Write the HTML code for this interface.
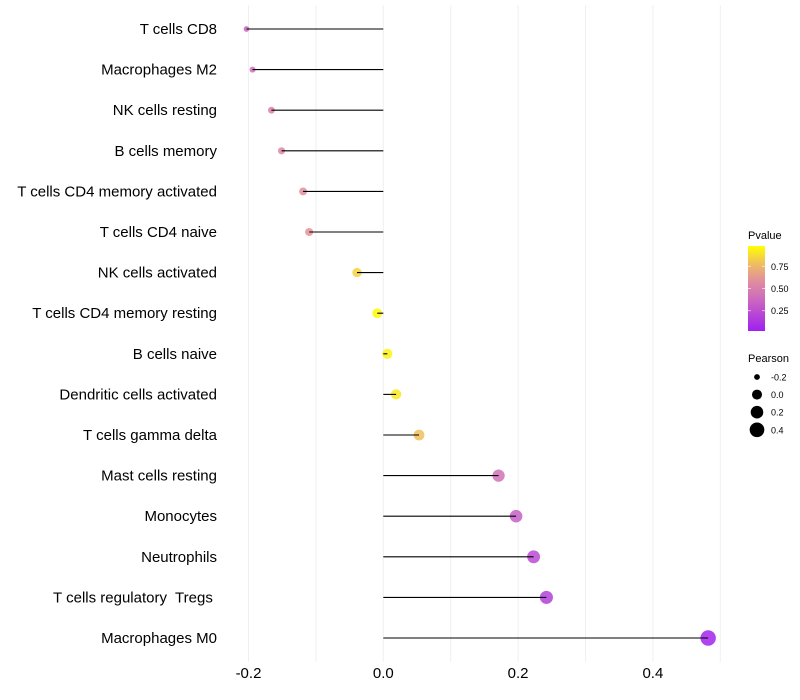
<!DOCTYPE html>
<html><head><meta charset="utf-8"><style>
body{margin:0;background:#fff;}
svg{display:block;font-family:"Liberation Sans",Arial,sans-serif;}
text{white-space:pre;}
</style></head><body>
<svg id="chart" width="800" height="700"></svg>
<script>
const categories=["T cells CD8","Macrophages M2","NK cells resting","B cells memory","T cells CD4 memory activated","T cells CD4 naive","NK cells activated","T cells CD4 memory resting","B cells naive","Dendritic cells activated","T cells gamma delta","Mast cells resting","Monocytes","Neutrophils","T cells regulatory  Tregs ","Macrophages M0"];
const pearson=[-0.203,-0.194,-0.166,-0.151,-0.119,-0.110,-0.039,-0.009,0.006,0.019,0.053,0.171,0.197,0.223,0.242,0.482];
const pvalue=[0.35,0.40,0.50,0.55,0.60,0.63,0.86,0.98,0.96,0.93,0.80,0.42,0.32,0.22,0.16,0.02];
const xTicks=[-0.2,0,0.2,0.4];
const xTickLabels=["-0.2","0.0","0.2","0.4"];
const xGrid=[-0.2,-0.1,0,0.1,0.2,0.3,0.4,0.5];
const colorTicks=[0.25,0.5,0.75];
const colorTickLabels=["0.25","0.50","0.75"];
const sizeLegend=[-0.2,0,0.2,0.4];
const sizeLegendLabels=["-0.2","0.0","0.2","0.4"];

const NS="http://www.w3.org/2000/svg";
const svg=document.getElementById('chart');
function mk(tag,attrs,parent){const e=document.createElementNS(NS,tag);for(const k in attrs)e.setAttribute(k,attrs[k]);(parent||svg).appendChild(e);return e;}
const x=v=>383.3+v*674;
const y=i=>29+i*40.6;
const rad=v=>Math.sqrt(Math.max(0,(v+0.25)/0.75))*6.6+1.2;
function lerp(a,b,t){return Math.round(a+(b-a)*t);}
function col(p){const s=[[160,32,240],[214,120,180],[232,160,140],[255,255,0]];let t=Math.max(0,Math.min(1,p));let a,b,u;if(t<0.45){a=s[0];b=s[1];u=t/0.45;}else if(t<0.7){a=s[1];b=s[2];u=(t-0.45)/0.25;}else{a=s[2];b=s[3];u=(t-0.7)/0.3;}return `rgb(${lerp(a[0],b[0],u)},${lerp(a[1],b[1],u)},${lerp(a[2],b[2],u)})`;}

xGrid.forEach(g=>{const l=mk('line',{x1:x(g),x2:x(g),y1:5,y2:662,stroke:'#f0f0f0','stroke-width':1});

});

xTicks.forEach((t,i)=>{const e=mk('text',{x:x(t),y:678,'text-anchor':'middle','font-size':15,fill:'#000'});e.textContent=xTickLabels[i];

});

categories.forEach((c,i)=>{
 const t=mk('text',{x:217,y:y(i)+5,'text-anchor':'end','font-size':15,fill:'#000'});t.textContent=c;
 
 
 const p=mk('circle',{cx:x(pearson[i]),cy:y(i),r:rad(pearson[i]),fill:col(pvalue[i]),'fill-opacity':0.85});
 
 
 const l=mk('line',{x1:x(0),x2:x(pearson[i]),y1:y(i),y2:y(i),stroke:'#000','stroke-width':1.1});
 
 
});

const g=mk('g',{});
const tt=mk('text',{x:748,y:239,'font-size':11,fill:'#000'},g);tt.textContent='Pvalue';
const defs=mk('defs',{});const lg=mk('linearGradient',{id:'pg',x1:0,y1:1,x2:0,y2:0},defs);
[0,0.2,0.4,0.6,0.8,1].forEach(s=>mk('stop',{offset:s,'stop-color':col(s)},lg));
const cb=mk('rect',{x:748,y:246,width:17,height:85,fill:'url(#pg)'},g);

const cy=p=>331-(p-0.02)/0.96*85;
colorTicks.forEach((t,i)=>{mk('line',{x1:748,x2:751,y1:cy(t),y2:cy(t),stroke:'#fff','stroke-opacity':0.6},g);mk('line',{x1:762,x2:765,y1:cy(t),y2:cy(t),stroke:'#fff','stroke-opacity':0.6},g);
 const e=mk('text',{x:771,y:cy(t)+3.5,'font-size':9,fill:'#000'},g);e.textContent=colorTickLabels[i];});

const g2=mk('g',{});
const t2=mk('text',{x:748,y:362,'font-size':11,fill:'#000'},g2);t2.textContent='Pearson';
sizeLegend.forEach((v,i)=>{const yy=377+i*17.6;mk('circle',{cx:757,cy:yy,r:rad(v),fill:'#000'},g2);
 const e=mk('text',{x:771,y:yy+3.5,'font-size':9,fill:'#000'},g2);e.textContent=sizeLegendLabels[i];});
</script>
</body></html>
